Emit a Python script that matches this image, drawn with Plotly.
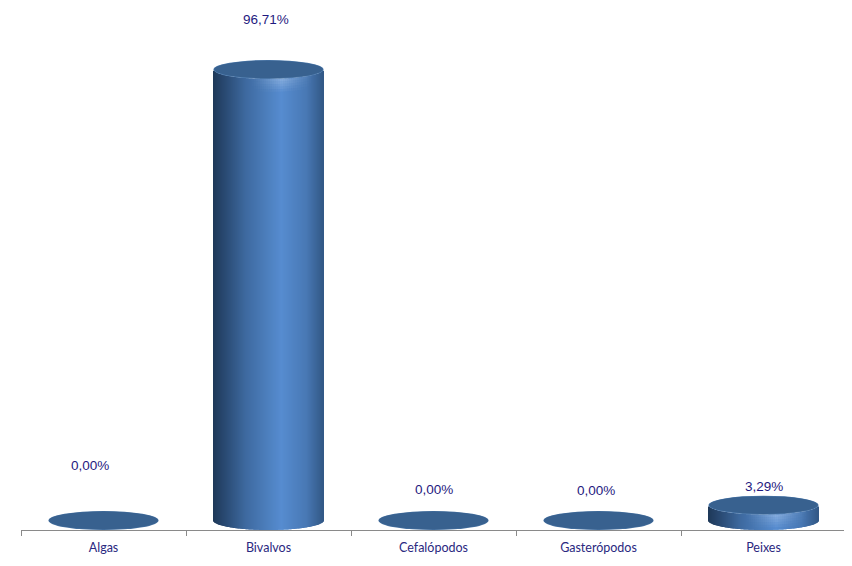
import math
import plotly.graph_objects as go

categories = ["Algas", "Bivalvos", "Cefalópodos", "Gasterópodos", "Peixes"]
values = [0.00, 96.71, 0.00, 0.00, 3.29]
labels = ["0,00%", "96,71%", "0,00%", "0,00%", "3,29%"]
label_shift_x = [-14, -3, 0, -3, 0]
label_shift_y = [55, 50, 31, 30, 19]

BAR_W = 0.667
RY = 2.04
N = 110
STOPS = [(0.0, (30, 56, 88)), (0.1, (40, 72, 112)), (0.3, (62, 106, 160)),
         (0.62, (86, 140, 208)), (0.85, (72, 120, 180)), (1.0, (50, 88, 134))]


def side_colour(t):
    for (a, ca), (b, cb) in zip(STOPS, STOPS[1:]):
        if t <= b:
            f = (t - a) / (b - a)
            return tuple(round(x + (y - x) * f) for x, y in zip(ca, cb))
    return STOPS[-1][1]


fig = go.Figure()
sw = BAR_W / N
for i in range(N):
    t = (i + 0.5) / N
    u = 2 * t - 1
    edge = RY * math.sqrt(max(0, 1 - u * u))
    r, g, b = side_colour(t)
    fig.add_trace(go.Bar(
        x=categories, y=values, base=[-edge] * 5,
        width=sw * 1.35, offset=-BAR_W / 2 + i * sw,
        marker=dict(color=f"rgb({r},{g},{b})", line=dict(width=0)),
        hoverinfo="skip", showlegend=False))

# soft highlight just under the rim of the cylinders
HL_ROWS = 5
HL_STEP = 0.55
for k in range(HL_ROWS):
    for i in range(0, N, 2):
        t = (i + 1) / N
        u = 2 * t - 1
        strength = max(0, 1 - abs(t - 0.62) / 0.3) ** 1.3 * (1 - k / HL_ROWS) * 0.28
        if strength < 0.01:
            continue
        edge = RY * math.sqrt(max(0, 1 - u * u))
        hl_base = [v - edge - HL_STEP * (k + 1) if v > 0 else 0 for v in values]
        hl_h = [HL_STEP if v > 0 else 0 for v in values]
        fig.add_trace(go.Bar(
            x=categories, y=hl_h, base=hl_base,
            width=sw * 2, offset=-BAR_W / 2 + i * sw,
            marker=dict(color=f"rgba(255,255,255,{strength:.3f})", line=dict(width=0)),
            hoverinfo="skip", showlegend=False))

shapes = []
for idx, v in enumerate(values):
    x0, x1 = idx - BAR_W / 2, idx + BAR_W / 2
    shapes.append(dict(type="circle", xref="x", yref="y", x0=x0, x1=x1, y0=v - RY, y1=v + RY,
                       fillcolor="#4f7cae" if v > 0 else "#446f9f", line=dict(width=0), layer="above"))
    shapes.append(dict(type="circle", xref="x", yref="y", x0=x0 + 0.004, x1=x1 - 0.004,
                       y0=v - RY + 0.16, y1=v + RY - 0.12,
                       fillcolor="#38618f", line=dict(width=0), layer="above"))

annotations = [
    dict(x=c, y=v, text=t, showarrow=False, xshift=dx, yshift=dy,
         font=dict(family="Liberation Sans", size=13.5, color="#1f1a80"))
    for c, v, t, dx, dy in zip(categories, values, labels, label_shift_x, label_shift_y)
]

fig.update_layout(
    width=844, height=558, autosize=False,
    margin=dict(l=13, r=6, t=0, b=36),
    plot_bgcolor="white", paper_bgcolor="white",
    barmode="overlay", bargap=0.33, showlegend=False,
    shapes=shapes, annotations=annotations,
    xaxis=dict(type="category", categoryorder="array", categoryarray=categories,
               range=[-0.5, 4.5], tickson="boundaries", ticks="outside", ticklen=5,
               tickcolor="#8a8a8a", showline=True, linecolor="#8a8a8a", linewidth=1,
               showgrid=False, zeroline=False, ticklabelstandoff=6,
               tickfont=dict(family="Lato", size=12.5, color="#2a2880")),
    yaxis=dict(range=[-RY, 109.9], visible=False, showgrid=False, zeroline=False),
)
fig.write_html("out.html")
